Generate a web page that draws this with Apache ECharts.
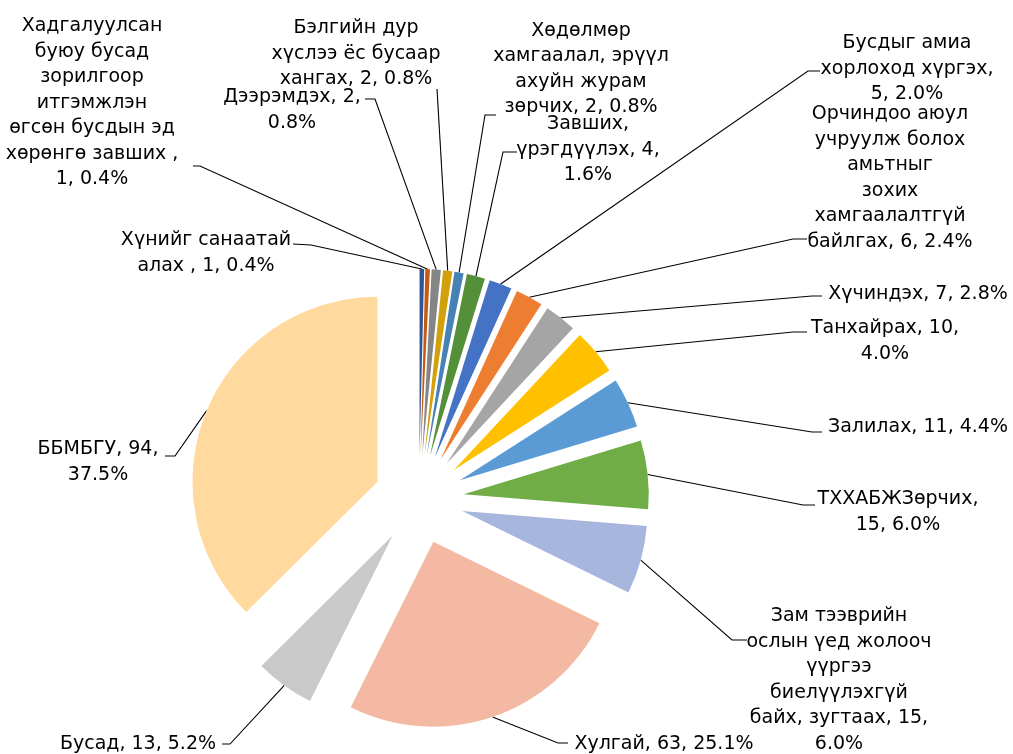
<!DOCTYPE html>
<html>
<head>
<meta charset="utf-8">
<script src="https://cdn.jsdelivr.net/npm/echarts@6/dist/echarts.min.js"></script>
<style>
  html, body { margin: 0; padding: 0; background: #fff; }
  #chart { width: 1013px; height: 754px; }
</style>
</head>
<body>
<div id="chart"></div>
<script>
// категориуд (цагийн зүүний дагуу, 12 цагаас эхэлнэ)
var categories = [
  'Хүнийг санаатай алах ',
  'Хадгалуулсан буюу бусад зорилгоор итгэмжлэн өгсөн бусдын эд хөрөнгө завших ',
  'Дээрэмдэх',
  'Бэлгийн дур хүслээ ёс бусаар хангах',
  'Хөдөлмөр хамгаалал, эрүүл ахуйн журам зөрчих',
  'Завших, үрэгдүүлэх',
  'Бусдыг амиа хорлоход хүргэх',
  'Орчиндоо аюул учруулж болох амьтныг зохих хамгаалалтгүй байлгах',
  'Хүчиндэх',
  'Танхайрах',
  'Залилах',
  'ТХХАБЖЗөрчих',
  'Зам тээврийн ослын үед жолооч үүргээ биелүүлэхгүй байх, зугтаах',
  'Хулгай',
  'Бусад',
  'ББМБГУ'
];
var values = [1, 1, 2, 2, 2, 4, 5, 6, 7, 10, 11, 15, 15, 63, 13, 94];

var colors = [
  '#2F5597', '#C55A11', '#858585', '#D1A00A', '#4682B4', '#548F3A',
  '#4472C4', '#ED7D31', '#A5A5A5', '#FFC000', '#5B9BD5', '#70AD47',
  '#A7B6DD', '#F4B9A3', '#C9C9C9', '#FFD99D'
];

// how many words go on each line of a label (Excel wrapping)
var lineWords = [
  [2, 4], [1, 2, 1, 1, 3, 3, 2], [2, 1], [2, 3, 3], [1, 2, 2, 3], [1, 2, 1],
  [2, 2, 2], [2, 2, 1, 1, 1, 3], [3], [2, 1], [3], [1, 2],
  [2, 3, 1, 1, 3, 1], [3], [3], [2, 1]
];
// label block centre [x, y]
var labelPos = [
  [206, 253], [92, 103], [292, 110], [356, 54], [581, 69], [588, 150],
  [907, 69], [890, 178], [918, 294], [885, 341], [918, 427], [898, 512],
  [839, 680], [664, 744], [138, 744], [98, 462]
];
// leader line end at the label [x, y, elbowX, elbowY]
var lineEnd = [
  [293, 244, 311, 245], [193, 166, 200, 166], [365, 99, 375, 99], [437, 89, 437, 89],
  [496, 115, 485, 115], [517, 152, 503, 152], [820, 71, 808, 71], [807, 239, 793, 239],
  [822, 296, 812, 296], [807, 332, 793, 332], [822, 432, 812, 432], [815, 505, 803, 505],
  [747, 640, 732, 640], [568, 743, 558, 743], [222, 744, 230, 744], [165, 456, 175, 456]
];

var pieCenter = [419, 499];
var pieRadius = 185;
var explode = 45;

var total = values.reduce(function (a, b) { return a + b; }, 0);

function wrapLabel(i) {
  var pct = (values[i] / total * 100).toFixed(1) + '%';
  var words = (categories[i] + ', ' + values[i] + ', ' + pct).split(' ');
  var lines = [], k = 0;
  lineWords[i].forEach(function (n) {
    lines.push(words.slice(k, k + n).join(' '));
    k += n;
  });
  return lines.join('\n');
}

// offset of the exploded slice i (clockwise from 12 o'clock)
function sliceShift(i) {
  var before = 0;
  for (var j = 0; j < i; j++) before += values[j];
  var a = (before + values[i] / 2) / total * 2 * Math.PI;
  return [Math.sin(a) * explode, -Math.cos(a) * explode];
}

var chart = echarts.init(document.getElementById('chart'));
chart.setOption({
  animation: false,
  series: [{
    // exploded slices
    type: 'pie',
    center: pieCenter,
    radius: pieRadius,
    startAngle: 90,
    clockwise: true,
    selectedMode: 'multiple',
    selectedOffset: explode,
    silent: true,
    itemStyle: { borderWidth: 0 },
    emphasis: { disabled: true },
    label: { show: false },
    labelLine: { show: false },
    data: categories.map(function (c, i) {
      return { name: c, value: values[i], selected: true, itemStyle: { color: colors[i] } };
    })
  }, {
    // same slices, transparent, only for the data labels
    type: 'pie',
    center: pieCenter,
    radius: pieRadius,
    startAngle: 90,
    clockwise: true,
    silent: true,
    avoidLabelOverlap: false,
    itemStyle: { color: 'rgba(0,0,0,0)', borderWidth: 0 },
    emphasis: { disabled: true },
    label: {
      show: true,
      position: 'outside',
      color: '#000',
      fontFamily: 'DejaVu Sans',
      fontSize: 19,
      lineHeight: 25.5,
      align: 'center',
      formatter: function (p) { return wrapLabel(p.dataIndex); }
    },
    labelLine: {
      show: true,
      length: 10,
      length2: 10,
      lineStyle: { color: '#000', width: 1.1, opacity: 1 }
    },
    labelLayout: function (params) {
      var i = params.dataIndex;
      var e = lineEnd[i];
      var p0 = params.labelLinePoints[0];
      var s = sliceShift(i);
      return {
        x: labelPos[i][0],
        y: labelPos[i][1],
        align: 'center',
        verticalAlign: 'middle',
        labelLinePoints: [[p0[0] + s[0], p0[1] + s[1]], [e[2], e[3]], [e[0], e[1]]]
      };
    },
    data: categories.map(function (c, i) {
      return { name: c, value: values[i] };
    })
  }]
});
</script>
</body>
</html>
